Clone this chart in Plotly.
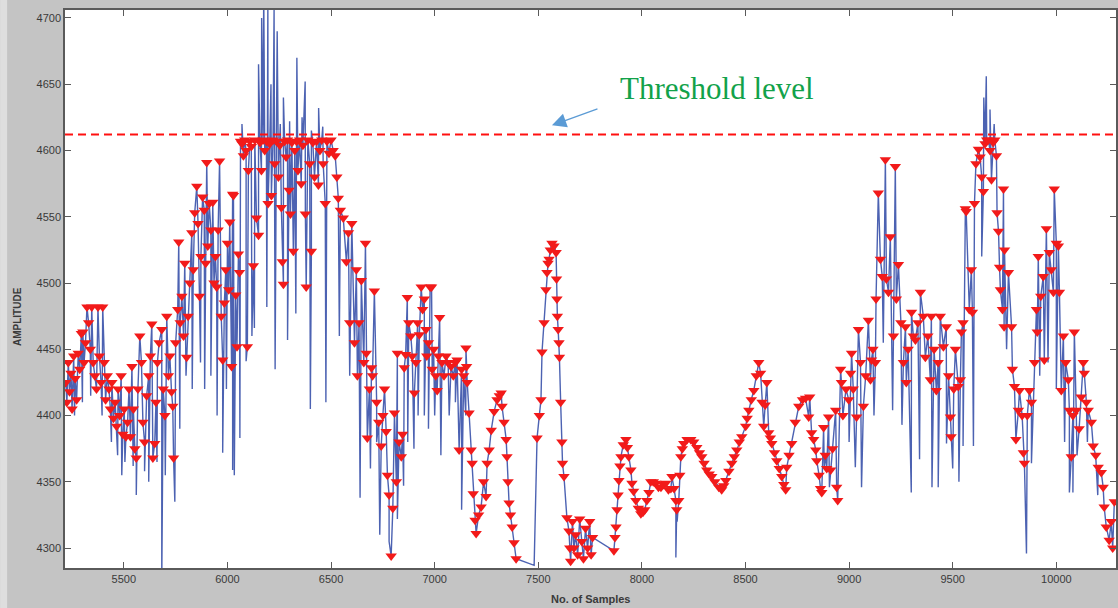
import plotly.graph_objects as go

# ---------------- data ----------------
threshold = 4612

peak_x = [
    5220,5225,5232,5238,5245,5250,5258,5265,5272,5280,
    5287,5295,5302,5308,5315,5322,5330,5338,5345,5352,
    5360,5368,5375,5382,5390,5398,5405,5412,5420,5428,
    5435,5442,5450,5458,5465,5472,5480,5487,5495,5502,
    5510,5518,5525,5532,5539,5546,5553,5560,5568,5577,
    5585,5592,5600,5610,5620,5628,5635,5640,5649,5655,
    5662,5670,5683,5690,5698,5707,5715,5722,5730,5736,
    5740,5750,5760,5765,5772,5780,5788,5794,5803,5810,
    5818,5828,5835,5842,5852,5858,5865,5872,5880,5888,
    5895,5900,5905,5912,5920,5929,5935,5942,5948,5955,
    5962,5970,5977,5985,5992,6000,6006,6011,6020,6025,
    6029,
    6040,6046,6053,6058,6063,6070,6077,6083,6090,6096,
    6101,6108,6115,6125,6132,6140,6150,6157,6164,6172,
    6180,6188,6196,6204,6212,6220,6228,6236,6246,6253,
    6260,6265,6270,6276,6283,6290,6297,6304,6311,6318,
    6325,6333,6340,6348,6356,6364,6376,6380,6388,6397,
    6405,6412,6420,6430,6439,6446,6455,6462,6472,6480,
    6490,6500,6510,6520,6528,6535,6545,6559,6574,6584,
    6590,6600,6613,6622,6627,6635,6646,6658,6666,6670,
    6675,6685,6695,6700,6709,6720,6730,6742,6750,6758,
    6766,6772,6780,6790,6798,6806,6815,6820,6828,6839,
    6845,6853,6860,6868,
    6875,6885,6892,6902,6910,6918,6926,6935,6942,6950,
    6958,6962,6970,6978,6985,6988,6995,7005,7012,7018,
    7024,7035,7045,7055,7065,7079,7090,7100,7108,7118,
    7130,7140,7151,7154,7157,7166,7176,7181,7186,7195,
    7200,7212,7224,7236,7248,7253,7263,7273,7287,7301,
    7312,7321,7325,7335,7345,7349,7354,7359,7366,7374,
    7383,7393,
    7494,7505,7513,7518,7528,7537,7542,7547,7552,7558,
    7566,7576,7586,7588,7590,7592,7596,7600,7602,7608,
    7614,7617,7624,7638,7648,7652,7656,7665,7672,7680,
    7690,7700,7710,7718,7728,7738,7748,7755,7762,
    7865,7870,7875,7880,7885,7889,7894,7899,7910,7923,
    7930,7937,7947,7952,7960,7971,7983,7995,8005,8014,
    8024,8034,8043,8055,8067,8080,8092,8104,8115,8128,
    8140,8145,8155,8164,8168,8178,8183,8188,8195,8202,
    8218,8236,8250,8265,8278,8289,8300,8313,8325,8337,
    8352,8371,8385,8395,8405,8420,8434,8446,8458,8470,
    8482,8501,8508,8516,8528,8540,8552,8564,8573,8580,
    8588,8595,8603,8612,8620,8627,8640,8651,8663,8675,
    8685,8694,8699,8710,8723,8740,8757,8775,8790,8805,
    8810,8819,8829,8839,8844,8855,8862,8868,
    8877,8885,8892,8901,8911,8920,8935,8940,8945,8959,
    8963,8970,8985,8998,9007,9012,9020,9036,9045,9055,
    9069,9080,9093,9103,9108,9115,9127,9130,9141,9151,
    9160,9175,9180,9190,9199,9214,9223,9228,9238,9250,
    9262,9272,9276,9285,9301,9310,9320,9332,9344,9358,
    9368,9380,9392,9397,9410,9421,9430,9440,9455,9469,
    9480,9489,9492,9505,9513,9527,9537,9542,9550,
    9561,9565,9580,9590,9595,9605,9612,9624,9632,9640,
    9648,9656,9664,9672,9680,9687,9695,9703,9711,9714,
    9721,9726,9730,9740,9745,9748,9750,9769,9784,9788,
    9798,9805,9817,9822,9835,9841,9846,9860,9870,9880,
    9895,9904,9908,9913,9925,9937,9942,9952,9966,9976,
    9986,9990,10000,10010,10015,10024,10034,10045,10058,10063,
    10072,10080,10087,10096,10110,10120,10130,10135,10145,10154,
    10169,10178,10190,10202,10217,10226,10231,10241,10255,10265,
    10272,10280,
]

peak_y = [
    4425,4410,4440,4418,4432,4405,4445,4428,4412,4447,
    4435,4462,4463,4440,4455,4482,4470,4450,4482,4440,
    4430,4420,4482,4445,4425,4482,4440,4412,4430,4420,
    4405,4425,4398,4410,4392,4420,4400,4430,4386,4405,
    4384,4395,4420,4384,4437,4405,4375,4368,4420,4460,
    4440,4395,4380,4415,4430,4445,4469,4368,4379,4410,
    4440,4455,4465,4420,4400,4475,4430,4445,4418,4407,
    4368,4455,4480,4531,4470,4490,4460,4515,4444,4475,
    4500,4538,4510,4553,4573,4545,4490,4520,4565,4555,
    4515,4591,4528,4560,4540,4561,4500,4520,4497,4540,
    4592,4475,4442,4485,4510,4530,4495,4546,4437,4567,
    4566,
    4491,4452,4522,4508,4607,4605,4596,4608,4600,4452,
    4585,4607,4603,4513,4608,4549,4536,4606,4585,4608,
    4600,4607,4560,4605,4566,4608,4590,4607,4580,4604,
    4557,4516,4499,4607,4595,4608,4570,4552,4606,4524,
    4600,4607,4585,4608,4575,4604,4552,4497,4608,4590,
    4524,4606,4580,4607,4574,4600,4608,4590,4560,4607,
    4598,4608,4600,4596,4580,4564,4555,4549,4516,4538,
    4470,4545,4455,4510,4430,4470,4502,4440,4530,4447,
    4383,4420,4436,4430,4494,4410,4395,4377,4400,4420,
    4388,4355,4340,4294,4330,4402,4350,4447,4380,4369,
    4386,4436,4446,4489,
    4470,4460,4445,4417,4440,4470,4461,4497,4480,4488,
    4465,4445,4455,4497,4497,4435,4450,4430,4419,4445,
    4474,4440,4430,4445,4440,4437,4430,4440,4442,4374,
    4435,4430,4451,4437,4425,4402,4374,4364,4341,4321,
    4311,4325,4331,4350,4339,4364,4374,4389,4403,4412,
    4415,4417,4407,4395,4382,4369,4350,4334,4325,4316,
    4304,4292,
    4383,4400,4412,4448,4470,4495,4508,4515,4518,4525,
    4530,4528,4523,4503,4488,4475,4465,4455,4444,4410,
    4380,4364,4354,4323,4313,4300,4290,4320,4300,4310,
    4295,4322,4305,4292,4315,4300,4320,4295,4308,
    4298,4308,4316,4329,4340,4351,4362,4369,4378,4382,
    4376,4369,4359,4349,4343,4336,4330,4326,4327,4329,
    4336,4342,4350,4350,4349,4346,4346,4348,4349,4344,
    4345,4354,4345,4336,4329,4336,4355,4369,4375,4379,
    4382,4382,4380,4376,4372,4369,4364,4359,4356,4354,
    4350,4346,4344,4347,4351,4358,4364,4369,4374,4380,
    4384,4392,4398,4404,4412,4419,4430,4440,4432,4410,
    4392,4408,4425,4387,4383,4379,4372,4366,4360,4354,
    4348,4344,4361,4370,4379,4395,4407,4412,4413,4399,
    4414,4387,4382,4374,4366,4355,4345,4342,
    4391,4370,4360,4399,4359,4375,4404,4346,4336,4435,
    4425,4400,4420,4412,4432,4447,4420,4399,4465,4440,
    4407,4430,4472,4427,4442,4450,4440,4488,4568,4518,
    4505,4593,4503,4493,4535,4460,4588,4488,4514,4470,
    4440,4467,4425,4450,4478,4460,4457,4470,4493,4475,
    4444,4460,4427,4475,4450,4419,4440,4475,4452,4467,
    4430,4399,4384,4420,4450,4422,4427,4463,4470,
    4556,4554,4480,4510,4478,4560,4590,4601,4595,4580,
    4569,4605,4608,4608,4600,4578,4606,4608,4596,4553,
    4539,4512,4495,4480,4571,4467,4525,4508,4467,4435,
    4422,4382,4404,4419,4400,4372,4364,4400,4419,4410,
    4440,4480,4463,4520,4490,4505,4442,4541,4523,4510,
    4493,4571,4530,4528,4493,4419,4460,4440,4427,4404,
    4369,4400,4463,4404,4390,4414,4440,4432,4410,4404,
    4395,4377,4370,4361,4357,4346,4331,4316,4306,4320,
    4300,4335,
]

# signal excursions (spike tips) between the detected peaks
spike_x = [
    5262,5300,5340,5395,5440,5470,5490,5505,5545,5560,
    5600,5620,5660,5683,5700,5746,5770,5800,5830,5870,
    5890,5920,5950,5977,5995,6025,
    6033,6060,6070,6090,6118,6130,6150,6165,6175,6190,
    6195,6210,6225,6230,6240,6255,6270,6290,6300,6330,
    6335,6360,6375,6400,6405,6440,6460,6475,6540,6590,
    6640,6690,6720,6735,6780,6820,6850,6870,
    6900,6920,6950,6970,7000,7030,7070,7100,7130,7150,7480,
    8164,8170,
    8880,8905,8950,9000,9030,9060,9120,9165,9210,9255,
    9300,9340,9400,9430,9470,9500,9530,9550,
    9600,9640,9650,9662,9680,9700,9760,9856,9880,9920,
    9960,10000,10040,10063,10080,10100,10150,10200,
]
spike_y = [
    4400,4410,4415,4400,4380,4370,4355,4365,4362,4340,
    4358,4350,4365,4275,4355,4335,4390,4430,4420,4440,
    4420,4430,4400,4372,4420,4359,
    4355,4383,4620,4441,4460,4466,4665,4700,4720,4482,
    4712,4650,4706,4435,4690,4620,4640,4457,4622,4477,
    4670,4625,4652,4405,4615,4632,4618,4410,4460,4430,
    4338,4360,4380,4310,4305,4322,4347,4380,
    4375,4400,4400,4390,4400,4370,4400,4410,4329,4400,4287,
    4293,4320,
    4361,4346,4372,4380,4361,4346,4400,4455,4404,4393,
    4342,4367,4346,4346,4379,4360,4350,4377,
    4377,4520,4640,4656,4631,4620,4450,4296,4364,4430,
    4440,4420,4380,4342,4342,4370,4380,4340,
]

x_ticks = [5500, 6000, 6500, 7000, 7500, 8000, 8500, 9000, 9500, 10000]
y_ticks = [4300, 4350, 4400, 4450, 4500, 4550, 4600, 4650, 4700]

if len(peak_x) != len(peak_y) or len(spike_x) != len(spike_y):
    raise ValueError(f"length mismatch {len(peak_x)} {len(peak_y)} {len(spike_x)} {len(spike_y)}")

# signal = peaks and spike tips merged in sample order
pts = sorted(list(zip(peak_x, peak_y)) + list(zip(spike_x, spike_y)), key=lambda p: p[0])
line_x = [p[0] for p in pts]
line_y = [p[1] for p in pts]

fig = go.Figure()
fig.add_trace(go.Scatter(
    x=line_x, y=line_y, mode="lines",
    line=dict(color="rgba(45,70,165,0.85)", width=1.4),
    showlegend=False, hoverinfo="skip",
))
fig.add_trace(go.Scatter(
    x=peak_x, y=peak_y, mode="markers",
    marker=dict(symbol="triangle-down", size=10, color="#f21a1a",
                line=dict(width=0)),
    showlegend=False,
))

fig.add_shape(type="line", xref="paper", x0=0, x1=1, yref="y", y0=threshold, y1=threshold,
              line=dict(color="#ff1010", width=2, dash="8px,5px"))
# light strip at the far left of the figure
fig.add_shape(type="rect", xref="paper", yref="paper", x0=-65/1053, x1=-58/1053,
              y0=-40/558, y1=1 + 10/558, fillcolor="#dedede", line=dict(width=0), layer="below")

# arrow to threshold line
fig.add_annotation(x=7566, y=4619, xref="x", yref="y", text="", showarrow=True,
                   ax=47, ay=-17, arrowcolor="#5b9bd5", arrowhead=2,
                   arrowsize=2.2, arrowwidth=1.3)
fig.add_annotation(x=8361, y=4647, xref="x", yref="y", text="Threshold level",
                   showarrow=False, xanchor="center", yanchor="middle",
                   font=dict(family="Liberation Serif", size=31, color="#12a24a"))

# axis titles
fig.add_annotation(x=0.5, y=0, xref="paper", yref="paper", yshift=-23,
                   text="<b>No. of Samples</b>", showarrow=False,
                   xanchor="center", yanchor="top",
                   font=dict(family="Liberation Sans", size=11, color="#3a3a3a"))
fig.add_annotation(x=-47/1053, y=0.45, xref="paper", yref="paper",
                   text="<b>AMPLITUDE</b>", showarrow=False, textangle=-90,
                   xanchor="center", yanchor="middle",
                   font=dict(family="Liberation Sans", size=10, color="#3a3a3a"))

axis_common = dict(
    showgrid=False, zeroline=False, showline=True, linecolor="#5a5a5a", linewidth=1.5,
    mirror="ticks", ticks="inside", ticklen=6, tickcolor="#5a5a5a", tickwidth=1,
    tickfont=dict(family="Liberation Sans", size=11, color="#3a3a3a"),
)
fig.update_xaxes(range=[5216, 10288], tickvals=x_ticks, ticktext=[str(v) for v in x_ticks],
                 **axis_common)
fig.update_yaxes(range=[4285, 4706], tickvals=y_ticks, ticktext=[str(v) for v in y_ticks],
                 **axis_common)

fig.update_layout(
    width=1118, height=608,
    margin=dict(l=65, r=0, t=10, b=40),
    paper_bgcolor="#c4c4c4", plot_bgcolor="white",
    showlegend=False,
)

fig.write_html("out.html", config={"displayModeBar": False},
               post_script="document.body.style.margin='0';document.body.style.overflow='hidden';")
